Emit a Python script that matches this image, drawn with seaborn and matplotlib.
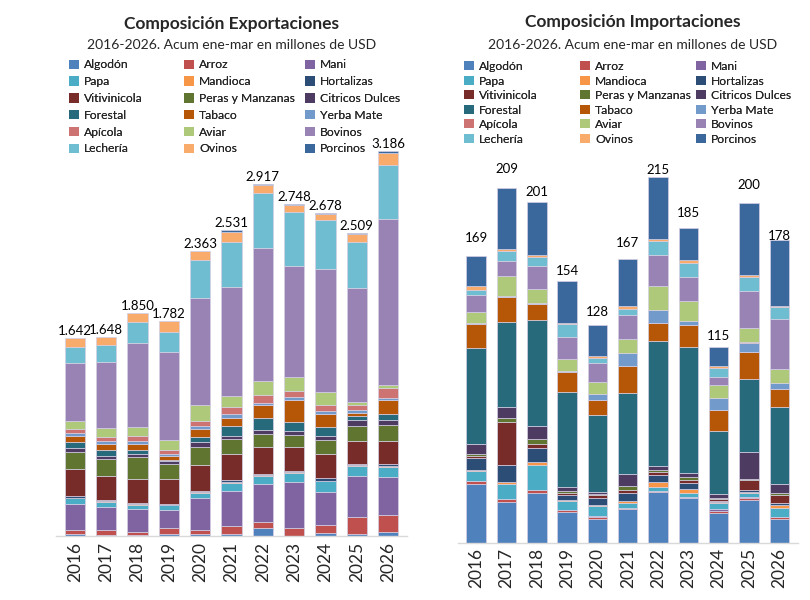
import numpy as np
import pandas as pd
import seaborn as sns
import matplotlib.pyplot as plt
from matplotlib.patches import Patch

anios = [2016, 2017, 2018, 2019, 2020, 2021, 2022, 2023, 2024, 2025, 2026]

categorias = ['Algodón', 'Arroz', 'Mani', 'Papa', 'Mandioca', 'Hortalizas',
              'Vitivinicola', 'Peras y Manzanas', 'Citricos Dulces', 'Forestal',
              'Tabaco', 'Yerba Mate', 'Apícola', 'Aviar', 'Bovinos', 'Lechería',
              'Ovinos', 'Porcinos']

colores = ['#4F81BD', '#C0504D', '#8064A2', '#4BACC6', '#F79646', '#2C4D75',
           '#772C2A', '#5F7530', '#4D3B62', '#276A7C', '#B65708', '#729ACA',
           '#CD7371', '#AFC97A', '#9983B5', '#6FBDD1', '#F9AB6B', '#3A679C']

# Exportaciones (millones de USD, ene-mar)
exp_algodon = [14, 12, 11, 19, 19, 19, 69, 3, 28, 14, 33]
exp_arroz = [33, 36, 22, 44, 33, 64, 47, 64, 61, 146, 138]
exp_mani = [221, 196, 188, 149, 259, 290, 317, 378, 279, 337, 317]
exp_papa = [46, 39, 39, 44, 47, 69, 64, 80, 85, 83, 85]
exp_mandioca = [3, 5, 3, 3, 4, 5, 5, 4, 4, 4, 5]
exp_hortalizas = [14, 11, 8, 8, 8, 14, 14, 11, 22, 14, 17]
exp_viti = [224, 196, 204, 207, 215, 218, 218, 196, 199, 185, 188]
exp_peras = [143, 141, 180, 119, 155, 121, 108, 97, 113, 130, 132]
exp_citricos = [33, 25, 22, 27, 39, 30, 33, 36, 36, 44, 47]
exp_forestal = [47, 52, 36, 11, 44, 80, 102, 77, 72, 36, 47]
exp_tabaco = [52, 50, 52, 30, 64, 66, 105, 180, 108, 25, 113]
exp_yerba = [20, 22, 22, 19, 22, 30, 22, 22, 30, 22, 22]
exp_apicola = [36, 36, 41, 30, 41, 58, 61, 55, 44, 41, 80]
exp_aviar = [66, 72, 72, 83, 132, 99, 116, 113, 113, 25, 30]
exp_bovinos = [479, 550, 701, 729, 886, 901, 1101, 922, 1016, 947, 1367]
exp_lecheria = [138, 138, 170, 168, 315, 373, 458, 441, 408, 381, 450]
exp_ovinos = [69, 63, 75, 88, 75, 77, 69, 61, 52, 64, 100]
exp_porcinos = [4, 4, 4, 4, 5, 17, 8, 8, 8, 11, 15]

# Importaciones (millones de USD, ene-mar)
imp_algodon = [34.4, 24.2, 29.5, 18.3, 13.8, 19.6, 29.8, 26.1, 17.3, 25.1, 13.9]
imp_arroz = [2.0, 1.4, 1.6, 1.0, 1.6, 0.6, 0.6, 0.4, 1.6, 1.4, 1.0]
imp_mani = [0.2, 0.2, 0.2, 0.2, 0.2, 0.2, 0.2, 0.2, 1.2, 0.2, 0.2]
imp_papa = [5.9, 8.6, 14.7, 5.3, 5.9, 2.9, 2.0, 2.6, 3.5, 2.6, 5.1]
imp_mandioca = [0.6, 1.2, 1.8, 0.6, 0.8, 1.0, 3.1, 2.4, 0.6, 0.8, 2.0]
imp_hortalizas = [6.5, 10.4, 8.1, 2.9, 3.9, 4.9, 4.3, 3.7, 0.6, 1.2, 1.2]
imp_viti = [1.4, 25.3, 2.2, 1.0, 1.6, 2.0, 1.6, 1.6, 0.8, 5.5, 4.9]
imp_peras = [1.2, 2.0, 3.1, 1.0, 1.0, 2.0, 1.4, 1.8, 1.0, 0.8, 1.0]
imp_citricos = [5.7, 6.7, 7.3, 2.6, 1.2, 7.5, 2.4, 2.4, 2.2, 15.7, 5.5]
imp_forestal = [57.0, 49.9, 62.7, 55.8, 45.0, 47.5, 73.2, 73.8, 36.7, 43.4, 45.2]
imp_tabaco = [14.1, 14.9, 9.4, 12.0, 9.0, 15.7, 10.8, 13.5, 12.8, 15.5, 10.6]
imp_yerba = [0.3, 0.3, 0.3, 0.3, 3.7, 8.0, 7.5, 1.8, 6.7, 5.7, 3.5]
imp_apicola = [0.1, 0.1, 0.1, 0.1, 0.1, 0.1, 0.1, 0.1, 0.1, 0.1, 0.1]
imp_aviar = [6.7, 12.0, 8.4, 6.9, 6.9, 8.2, 14.1, 12.0, 7.5, 8.2, 8.2]
imp_bovinos = [10.0, 8.8, 13.8, 13.0, 11.4, 14.1, 18.3, 14.3, 5.1, 22.0, 29.6]
imp_lecheria = [2.8, 5.9, 5.3, 8.1, 2.4, 3.5, 8.2, 8.0, 5.1, 8.4, 6.9]
imp_ovinos = [2.2, 1.2, 0.8, 0.4, 1.2, 1.4, 1.0, 1.6, 1.2, 0.8, 0.8]
imp_porcinos = [17.9, 36.0, 31.6, 24.8, 18.5, 27.9, 36.7, 18.9, 11.2, 42.8, 38.4]

expo = [exp_algodon, exp_arroz, exp_mani, exp_papa, exp_mandioca, exp_hortalizas,
        exp_viti, exp_peras, exp_citricos, exp_forestal, exp_tabaco, exp_yerba,
        exp_apicola, exp_aviar, exp_bovinos, exp_lecheria, exp_ovinos, exp_porcinos]
impo = [imp_algodon, imp_arroz, imp_mani, imp_papa, imp_mandioca, imp_hortalizas,
        imp_viti, imp_peras, imp_citricos, imp_forestal, imp_tabaco, imp_yerba,
        imp_apicola, imp_aviar, imp_bovinos, imp_lecheria, imp_ovinos, imp_porcinos]

# desplazamiento vertical de las etiquetas de total (px)
desfase_exp = [7] * 11
desfase_imp = [17.6, 19, 10, 10, 13, 16, 7, 15.3, 11, 17.7, 4.3]


def to_long(series):
    rows = []
    for cat, vals in zip(categorias, series):
        for anio, v in zip(anios, vals):
            rows.append({'Año': anio, 'Categoria': cat, 'Valor': v})
    return pd.DataFrame(rows)


sns.set_theme(style='white')
plt.rcParams['font.family'] = ['Lato', 'DejaVu Sans']

fig = plt.figure(figsize=(8.1, 6.0), dpi=100)
ax1 = fig.add_axes([56 / 810, 64 / 600, 351 / 810, 386 / 600])
ax2 = fig.add_axes([458 / 810, 57.3 / 600, 339.5 / 810, 382.7 / 600])

paleta = dict(zip(categorias, colores))


def stacked(ax, series, ymax, desfases, fmt):
    df = to_long(series)
    sns.histplot(data=df, x='Año', weights='Valor', hue='Categoria',
                 hue_order=categorias[::-1], multiple='stack', discrete=True,
                 shrink=0.64, palette=paleta, alpha=1, edgecolor='#d6d0e4',
                 linewidth=0.5, legend=False, ax=ax)
    totales = df.groupby('Año')['Valor'].sum()
    for anio, off in zip(anios, desfases):
        ax.annotate(fmt(totales[anio]), xy=(anio, totales[anio]),
                    xytext=(0, off * 0.72), textcoords='offset points',
                    ha='center', va='center', fontsize=9.5, color='black',
                    annotation_clip=False)
    ax.set_xlim(anios[0] - 0.6, anios[-1] + 0.6)
    ax.set_ylim(0, ymax)
    ax.set_yticks([])
    ax.set_xticks(anios)
    ax.set_xticklabels([str(a) for a in anios], rotation=90, fontsize=12.5)
    ax.tick_params(axis='x', length=0, pad=4)
    ax.set_xlabel('')
    ax.set_ylabel('')
    for s in ['left', 'right', 'top']:
        ax.spines[s].set_visible(False)
    ax.spines['bottom'].set_color('#d9d9d9')
    ax.spines['bottom'].set_linewidth(1.0)


stacked(ax1, expo, 3196, desfase_exp, lambda t: f"{int(round(t)):,}".replace(',', '.'))
stacked(ax2, impo, 225.4, desfase_imp, lambda t: f"{int(round(t))}")

fig.text(232 / 810, 1 - 24 / 600, 'Composición Exportaciones', ha='center', va='center',
         fontsize=12.5, fontweight='bold')
fig.text(232 / 810, 1 - 45 / 600, '2016-2026. Acum ene-mar en millones de USD',
         ha='center', va='center', fontsize=10)
fig.text(633 / 810, 1 - 22 / 600, 'Composición Importaciones', ha='center', va='center',
         fontsize=12.5, fontweight='bold')
fig.text(633 / 810, 1 - 45 / 600, '2016-2026. Acum ene-mar en millones de USD',
         ha='center', va='center', fontsize=10)

handles = [Patch(facecolor=c, edgecolor='none') for c in colores]


def leyenda(xs, ytop, spacing):
    for c, x in enumerate(xs):
        leg = fig.legend(handles[c::3], categorias[c::3], loc='upper left',
                         bbox_to_anchor=(x / 810, 1 - ytop / 600), frameon=False,
                         fontsize=8.7, handlelength=0.8, handleheight=0.8,
                         handletextpad=0.45, labelspacing=spacing, borderpad=0,
                         borderaxespad=0)
        fig.add_artist(leg)


leyenda([69, 184, 305], 59.5, 0.48)
leyenda([464, 580, 696], 61, 0.29)

fig.savefig('out.png', dpi=100)
